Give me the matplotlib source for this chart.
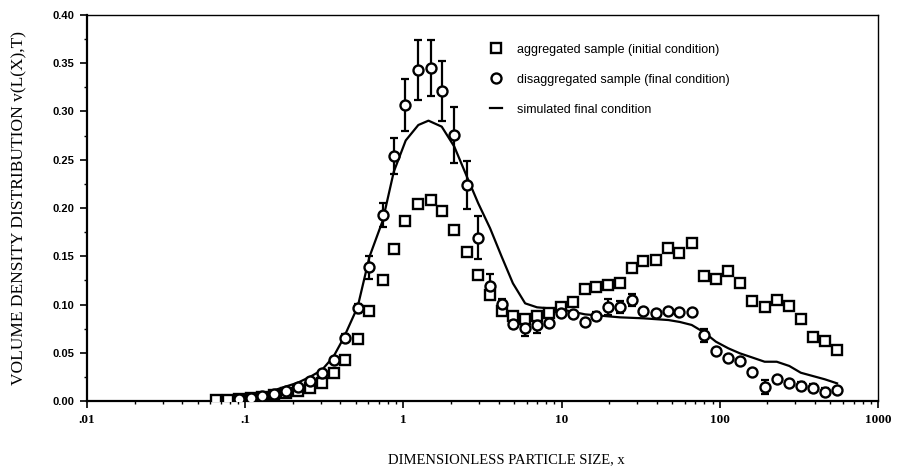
import numpy as np
import matplotlib.pyplot as plt
from matplotlib.ticker import FixedLocator, LogLocator, NullFormatter

# particle size bins (dimensionless)
size_x = [0.065, 0.078, 0.091, 0.109, 0.128, 0.152, 0.18, 0.215, 0.258, 0.305,
          0.363, 0.427, 0.514, 0.61, 0.74, 0.87, 1.03, 1.24, 1.49, 1.75,
          2.1, 2.52, 2.96, 3.53, 4.18, 4.93, 5.89, 7.02, 8.36, 9.89,
          11.8, 14.1, 16.6, 19.6, 23.4, 27.7, 32.8, 39.4, 47.3, 55.6,
          66.4, 79.7, 94.3, 113., 134., 159., 192., 229., 275., 325.,
          387., 461., 551.]

# aggregated sample (initial condition)
v_aggr = [0.001, 0.001, 0.002, 0.003, 0.0045, 0.006, 0.0086, 0.0104, 0.0138, 0.019,
          0.029, 0.0425, 0.0646, 0.093, 0.125, 0.158, 0.187, 0.2045, 0.208, 0.197,
          0.1775, 0.154, 0.1306, 0.110, 0.093, 0.088, 0.0847, 0.088, 0.0915, 0.097,
          0.103, 0.1158, 0.1178, 0.1207, 0.1226, 0.1375, 0.1456, 0.1458, 0.1582, 0.153,
          0.1637, 0.1295, 0.1262, 0.135, 0.1226, 0.1033, 0.0974, 0.1047, 0.0984, 0.0848,
          0.0666, 0.0624, 0.0528]

# disaggregated sample (final condition), starts at third bin
x_dis = size_x[2:]
v_dis = [0.002, 0.003, 0.005, 0.007, 0.0104, 0.0148, 0.0207, 0.0287,
         0.0425, 0.065, 0.096, 0.1385, 0.1927, 0.254, 0.3067, 0.343, 0.3454, 0.3216,
         0.2753, 0.2236, 0.1692, 0.119, 0.101, 0.080, 0.0753, 0.0788, 0.0811, 0.0915,
         0.090, 0.0822, 0.088, 0.0974, 0.0974, 0.1047, 0.0933, 0.0909, 0.0933, 0.0927,
         0.0927, 0.0679, 0.0521, 0.0442, 0.0418, 0.0304, 0.0145, 0.0225, 0.019, 0.0152,
         0.0135, 0.0096, 0.0109]
err_dis = [0, 0, 0, 0, 0, 0, 0, 0,
           0, 0.004, 0.005, 0.012, 0.012, 0.019, 0.027, 0.031, 0.029, 0.031,
           0.029, 0.025, 0.022, 0.013, 0.005, 0.004, 0.008, 0.008, 0.004, 0,
           0, 0, 0.004, 0.008, 0.006, 0.006, 0, 0, 0, 0,
           0, 0.007, 0, 0, 0, 0, 0.007, 0, 0, 0.004,
           0.004, 0.004, 0]

# simulated final condition
x_sim = [0.0648, 0.091, 0.109, 0.128, 0.179, 0.215, 0.258, 0.305, 0.361, 0.418,
         0.514, 0.61, 0.74, 0.869, 1.034, 1.242, 1.44, 1.746, 2.098, 2.52,
         2.97, 3.53, 4.18, 4.92, 5.88, 6.99, 8.36, 9.9, 14.06, 23.4,
         32.8, 47.3, 55.9, 66.4, 79.8, 94.4, 113.2, 134., 159., 192.,
         229., 275., 325., 387., 461., 551.]
v_sim = [0.001, 0.0026, 0.004, 0.0073, 0.0148, 0.019, 0.0252, 0.0321, 0.0459, 0.065,
         0.0977, 0.1495, 0.187, 0.2376, 0.270, 0.286, 0.2905, 0.2843, 0.2635, 0.2324,
         0.2049, 0.179, 0.1495, 0.122, 0.1012, 0.0971, 0.096, 0.095, 0.0898, 0.0867,
         0.0857, 0.0839, 0.0819, 0.0788, 0.071, 0.0615, 0.0546, 0.0494, 0.0453, 0.0407,
         0.0407, 0.0363, 0.0293, 0.0259, 0.0225, 0.0183]

serif = 'Liberation Serif'
sans = 'Liberation Sans'

fig = plt.figure(figsize=(9.01, 4.67), dpi=100)
ax = fig.add_axes([0.0966, 0.1413, 0.8779, 0.8266])

ax.plot(x_sim, v_sim, 'k-', lw=1.6, label='simulated final condition', zorder=2)
ax.errorbar(x_dis, v_dis, yerr=err_dis, fmt='none', ecolor='k', elinewidth=1.6,
            capsize=3, capthick=1.6, zorder=3)
ax.plot(size_x, v_aggr, 's', ms=7.2, mfc='white', mec='k', mew=1.7,
        label='aggregated sample (initial condition)', zorder=4)
ax.plot(x_dis, v_dis, 'o', ms=7.2, mfc='white', mec='k', mew=1.7,
        label='disaggregated sample (final condition)', zorder=5)

ax.set_xscale('log')
ax.set_xlim(0.01, 1000)
ax.set_ylim(0, 0.40)

ax.xaxis.set_major_locator(FixedLocator([0.01, 0.1, 1, 10, 100, 1000]))
ax.set_xticklabels(['.01', '.1', '1', '10', '100', '1000'], family=serif,
                   fontsize=9.5, fontweight='bold')
ax.xaxis.set_minor_locator(LogLocator(base=10, subs=np.arange(2, 10)))
ax.xaxis.set_minor_formatter(NullFormatter())

yt = np.arange(0, 0.401, 0.05)
ax.set_yticks(yt)
ax.set_yticklabels(['%.2f' % v for v in yt], family=sans, fontweight='bold', fontsize=8)
ax.set_yticks(np.arange(0.025, 0.40, 0.05), minor=True)

ax.tick_params(which='major', direction='out', length=5, width=1.2, pad=4)
ax.tick_params(which='minor', direction='out', length=2.5, width=1.0)
for s in ax.spines.values():
    s.set_linewidth(1.0)
ax.spines['left'].set_linewidth(1.6)
ax.spines['bottom'].set_linewidth(1.6)

ax.set_xlabel('DIMENSIONLESS PARTICLE SIZE, x', family=serif, fontsize=10.5, labelpad=16)
ax.xaxis.set_label_coords(0.53, -0.135)
ax.set_ylabel('VOLUME DENSITY DISTRIBUTION v(L(X),T)', family=serif, fontsize=12.5, labelpad=18)

h, l = ax.get_legend_handles_labels()
order = [1, 2, 0]
ax.legend([h[i] for i in order], [l[i] for i in order], loc='upper left',
          bbox_to_anchor=(0.495, 0.955), frameon=False, handlelength=1.0,
          handletextpad=1.2, labelspacing=1.45, prop={'family': sans, 'size': 9})

fig.savefig('out.png', dpi=100)
